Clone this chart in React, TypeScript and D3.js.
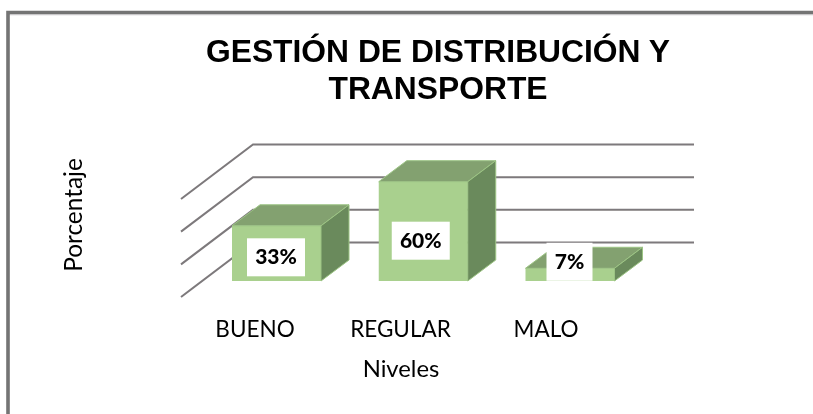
import React from "react";
import * as d3 from "d3";

const categories = ["BUENO", "REGULAR", "MALO"];
const values = [33, 60, 7];
const labels = ["33%", "60%", "7%"];
const gridTicks = [0, 20, 40, 60];
const titleLines = ["GESTIÓN DE DISTRIBUCIÓN Y", "TRANSPORTE"];
const yTitle = "Porcentaje";
const xTitle = "Niveles";

const W = 813, H = 414;
const DEPTH_X = 72, DEPTH_Y = 54.5;
const BAR_DX = 28, BAR_DY = 21;
const BASE_Y = 281;

export default function App() {
  const yGrid = d3.scaleLinear().domain([0, 60]).range([297, 199]);
  const yBar = d3.scaleLinear().domain([0, 60]).range([279.7, 181.7]);
  const x = d3.scaleBand().domain(categories).range([232, 614.5]).paddingInner(0.3935).paddingOuter(0);
  const xLabel = d3.scalePoint().domain(categories).range([255, 546]);
  const bw = x.bandwidth();
  const labelBoxes = [
    { dx: 15, dy: 12.5, w: 58, h: 38 },
    { dx: 13, dy: 40, w: 58, h: 38 },
    { dx: 21, dy: -25.5, w: 46, h: 38 },
  ];
  return (
    <svg width={W} height={H} style={{ position: "fixed", left: 0, top: 0, background: "#fff" }}>
      <defs>
        <filter id="soft" x="-5%" y="-5%" width="110%" height="110%">
          <feGaussianBlur stdDeviation="0.45" />
        </filter>
      </defs>
      <path d={`M8 ${H} V12.6 H${W}`} fill="none" stroke="#747474" strokeWidth={3.6} />
      <line x1={10} x2={W} y1={14.8} y2={14.8} stroke="#cfcdd0" strokeWidth={1} />
      <g filter="url(#soft)">
        {titleLines.map((t, i) => (
          <text key={t} x={438} y={62 + i * 37} textAnchor="middle" fontFamily="Liberation Sans" fontWeight="bold" fontSize={31.8} fill="#000">{t}</text>
        ))}
        {gridTicks.map((t) => {
          const y0 = yGrid(t);
          return (
            <path key={t} d={`M181 ${y0} L${181 + DEPTH_X} ${y0 - DEPTH_Y} H694`} fill="none" stroke="#7d797b" strokeWidth={2} />
          );
        })}
        {values.map((v, i) => {
          const left = x(categories[i]) as number;
          const top = yBar(v);
          const right = left + bw;
          return (
            <g key={categories[i]}>
              <rect x={left} y={top} width={bw} height={BASE_Y - top} fill="#a9d08e" />
              <path d={`M${left} ${top} L${left + BAR_DX} ${top - BAR_DY} H${right + BAR_DX} L${right} ${top} Z`} fill="#83a170" stroke="#9cc484" strokeWidth={1} />
              <path d={`M${right} ${top} L${right + BAR_DX} ${top - BAR_DY} V${BASE_Y - BAR_DY} L${right} ${BASE_Y} Z`} fill="#6b8a5b" stroke="#9cc484" strokeWidth={1} />
            </g>
          );
        })}
        {labels.map((l, i) => {
          const b = labelBoxes[i];
          const bx = (x(categories[i]) as number) + b.dx;
          const by = yBar(values[i]) + b.dy;
          return (
            <g key={l}>
              <rect x={bx} y={by} width={b.w} height={b.h} fill="#fff" />
              <text x={bx + b.w / 2} y={by + b.h / 2 + 7} textAnchor="middle" fontFamily="Lato" fontWeight="900" fontSize={21} fill="#000">{l}</text>
            </g>
          );
        })}
        {categories.map((c) => (
          <text key={c} x={xLabel(c)} y={336.5} textAnchor="middle" fontFamily="Lato" fontSize={22.5} fill="#000">{c}</text>
        ))}
        <text x={401} y={376.5} textAnchor="middle" fontFamily="Lato" fontSize={23.8} fill="#000">{xTitle}</text>
        <text transform="translate(82,215) rotate(-90)" textAnchor="middle" fontFamily="Lato" fontSize={24.4} fill="#000">{yTitle}</text>
      </g>
    </svg>
  );
}
